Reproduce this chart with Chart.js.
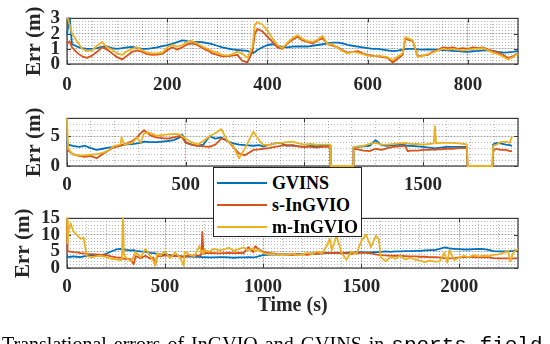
<!DOCTYPE html>
<html><head><meta charset="utf-8">
<script src="https://cdn.jsdelivr.net/npm/chart.js@4/dist/chart.umd.min.js"></script>
<style>
html,body{margin:0;padding:0;background:#fff;}
#wrap{position:relative;width:550px;height:344px;overflow:hidden;background:#fff;}
canvas{position:absolute;left:0;}
#legend{position:absolute;left:213px;top:167px;width:147px;height:68px;background:#fff;border:1px solid #262626;font:bold 18px "Liberation Serif","Times New Roman",serif;color:#000;}
.item{position:absolute;left:0;width:147px;height:22px;line-height:22px;}
.sw{position:absolute;left:3px;top:10px;width:50px;height:2px;}
.lb{position:absolute;left:58px;top:0;white-space:nowrap;}
#caption{position:absolute;left:2px;top:333px;white-space:nowrap;line-height:20px;font:20px "Liberation Serif","Times New Roman",serif;color:#000;word-spacing:2px;}
#caption span{font:21px "Liberation Mono","DejaVu Sans Mono",monospace;word-spacing:0;}
</style></head>
<body><div id="wrap">
<canvas id="c1" width="550" height="100" style="top:0px"></canvas>
<canvas id="c2" width="550" height="100" style="top:100px"></canvas>
<canvas id="c3" width="550" height="144" style="top:200px"></canvas>
<div id="legend">
 <div class="item" style="top:4px"><div class="sw" style="background:#0072BD"></div><div class="lb">GVINS</div></div>
 <div class="item" style="top:26px"><div class="sw" style="background:#D95319"></div><div class="lb">s-InGVIO</div></div>
 <div class="item" style="top:48px"><div class="sw" style="background:#EDB120"></div><div class="lb">m-InGVIO</div></div>
</div>
<div id="caption">Translational errors of InGVIO and GVINS in <span>sports_field</span></div>
</div>
<script>
// ---------- DATA ----------
const seriesNames = ['GVINS', 's-InGVIO', 'm-InGVIO'];

// Panel 1
const topTime = [0,5,10,20,30,40,50,60,70,80,90,
 100,110,120,130,140,150,160,170,180,190,
 200,210,220,230,240,250,260,270,280,290,
 300,310,320,330,340,350,360,370,375,380,390,
 400,410,420,430,440,450,460,470,480,490,
 500,510,520,530,540,550,560,570,580,590,
 600,610,620,630,640,650,660,670,675,680,690,
 700,710,720,730,740,750,760,770,780,790,
 800,810,820,830,840,850,860,870,880,890,900];
const topGvins = [1.9,3.2,1.3,1.15,1.05,1.0,1.0,1.05,1.12,1.15,1.05,
 1.0,1.04,1.1,1.12,1.06,1.0,1.0,1.04,1.1,1.18,
 1.24,1.33,1.44,1.55,1.5,1.47,1.45,1.43,1.38,1.3,
 1.2,1.1,1.02,0.96,0.92,0.9,0.86,0.72,0.78,0.92,1.1,
 1.25,1.3,1.2,1.12,1.1,1.14,1.15,1.16,1.15,1.2,
 1.25,1.3,1.36,1.4,1.41,1.35,1.26,1.2,1.15,1.1,
 1.05,1.0,1.0,0.95,0.9,0.85,0.88,0.95,0.98,1.0,1.0,
 0.96,0.95,0.96,0.95,0.94,0.92,0.9,0.86,0.85,0.82,
 0.8,0.84,0.86,0.9,0.9,0.86,0.8,0.75,0.76,0.8,0.86];
const topSIn = [1.3,1.5,1.1,0.75,0.5,0.4,0.55,0.8,1.1,0.95,0.7,
 0.45,0.3,0.55,0.8,0.9,0.8,0.65,0.6,0.62,0.66,
 0.9,1.1,0.95,1.1,1.3,1.35,1.25,1.05,0.9,0.7,
 0.6,0.5,0.5,0.55,0.6,0.2,0.1,0.8,2.0,2.3,2.15,
 1.8,1.45,1.1,1.0,1.35,1.6,1.8,1.55,1.45,1.35,
 1.55,1.7,1.3,1.2,1.1,0.9,0.75,0.8,0.85,0.7,
 0.6,0.55,0.5,0.45,0.4,0.1,0.35,0.6,1.7,1.6,1.5,
 0.5,0.55,0.6,0.8,0.9,1.1,1.05,1.1,1.0,1.05,
 1.0,1.1,1.05,1.1,0.95,0.85,0.75,0.6,0.4,0.5,0.75];
const topMIn = [3.2,2.6,2.0,1.5,1.0,0.85,0.9,1.2,1.45,1.1,0.95,
 0.7,0.6,0.85,1.0,1.1,0.9,0.75,0.7,0.7,0.75,
 1.1,1.25,1.15,1.25,1.45,1.5,1.35,1.15,1.0,0.85,
 0.75,0.6,0.55,0.65,0.8,0.7,0.4,1.1,2.6,2.75,2.6,
 2.2,1.7,1.25,1.05,1.4,1.7,1.9,1.65,1.5,1.45,
 1.6,1.85,1.3,1.3,1.05,0.85,0.7,0.8,0.75,0.65,
 0.55,0.5,0.55,0.5,0.45,0.25,0.5,0.7,1.75,1.7,1.55,
 0.45,0.55,0.65,0.75,0.9,1.0,0.95,1.0,0.95,0.9,
 0.95,1.0,1.0,1.05,0.9,0.75,0.65,0.5,0.3,0.45,0.7];
const topXTicks = [0,200,400,600,800];
const topYTicks = [0,1,2,3];

// Panel 2
const midTime = [0,5,25,50,75,100,125,150,175,200,
 225,230,240,275,295,310,325,350,375,400,
 425,450,475,485,500,525,550,575,600,625,
 650,675,700,725,750,785,810,825,850,875,
 900,925,950,975,1000,1025,1050,1075,1100,1108,
 1110,1205,1207,1225,1250,1275,1300,1325,1350,1375,
 1400,1425,1435,1450,1475,1500,1525,1545,1550,1555,
 1575,1600,1625,1650,1675,1685,1687,1793,1795,1810,
 1825,1850,1865,1875];
const midGvins = [4.1,3.6,3.4,3.2,3.4,3.0,2.7,2.9,3.1,3.2,
 3.4,3.5,3.6,3.7,3.8,3.9,4.1,4.0,4.0,4.1,
 4.2,4.35,4.8,5.3,4.0,3.6,3.4,3.6,5.0,4.6,
 4.8,4.2,3.8,3.6,3.5,3.4,3.5,3.3,3.5,3.8,
 3.9,3.4,3.5,3.3,3.2,3.4,3.3,3.4,3.4,3.4,
 0,0,3.2,3.2,3.3,3.4,4.35,3.5,3.4,3.5,
 3.6,3.5,3.4,3.4,3.3,3.2,3.1,3.0,2.9,3.0,
 3.1,3.2,3.2,3.2,3.2,3.2,0,0,3.6,3.9,
 3.8,3.6,3.5,3.4];
const midSIn = [2.9,2.6,2.0,1.7,1.55,1.7,1.3,2.0,2.6,3.2,
 3.4,3.5,3.6,4.2,4.8,5.5,6.0,5.2,4.8,4.7,
 4.6,4.8,5.05,4.8,3.9,3.6,3.4,3.3,3.2,3.6,
 4.6,4.3,3.2,2.1,1.8,2.7,2.8,2.9,3.0,3.2,
 3.4,3.5,3.4,3.3,3.2,3.2,3.1,3.2,3.2,3.3,
 0,0,2.9,2.8,2.6,2.5,2.9,2.7,3.0,3.2,
 3.3,3.4,2.5,2.6,2.6,2.7,2.7,2.8,2.7,2.8,
 2.8,2.9,2.9,3.0,3.0,3.0,0,0,2.6,2.9,
 2.7,2.7,2.5,2.5];
const midMIn = [8.0,2.9,1.9,1.8,1.8,1.9,2.0,2.2,2.6,3.4,
 3.6,4.8,3.6,3.9,4.8,3.9,5.5,5.6,5.1,5.2,
 5.3,5.4,5.3,5.0,4.6,4.0,3.6,4.2,5.0,5.5,
 6.2,4.3,3.4,1.3,3.0,5.75,4.3,3.6,3.5,3.8,
 3.9,4.0,4.1,3.8,3.6,3.7,3.6,3.6,3.6,3.6,
 0,0,3.2,3.3,3.4,3.7,3.9,3.6,3.6,3.7,
 3.8,3.9,3.8,3.7,3.7,3.6,3.7,3.8,6.7,3.8,
 3.9,3.9,3.9,3.8,3.7,3.6,0,0,3.4,3.6,
 4.0,4.1,3.9,5.0];
const midXTicks = [0,500,1000,1500];
const midYTicks = [0,5];

// Panel 3
const botTime = [0,3,10,20,30,50,70,85,100,125,
 150,175,200,225,250,275,280,285,290,300,
 325,340,350,375,400,425,440,450,460,475,
 500,525,550,575,595,600,625,650,675,685,
 690,695,700,725,750,775,800,825,850,875,
 900,925,950,960,975,1000,1025,1050,1075,1100,
 1125,1150,1175,1200,1225,1250,1275,1300,1325,1340,
 1350,1375,1400,1425,1450,1475,1500,1525,1550,1575,
 1590,1600,1625,1650,1675,1700,1725,1750,1775,1800,
 1825,1850,1875,1900,1925,1940,1950,1975,2000,2025,
 2050,2075,2100,2125,2150,2175,2200,2225,2250,2260,
 2275,2300];
const botGvins = [3.6,3.4,3.3,3.4,3.5,3.4,3.3,3.5,3.7,3.8,
 3.9,3.9,4.3,5.0,5.6,5.8,5.7,5.5,5.6,5.5,
 5.3,5.4,5.2,5.0,4.9,4.6,4.5,4.4,4.3,4.2,
 4.1,3.9,3.7,3.6,3.4,3.4,3.5,3.4,3.4,3.3,
 3.3,3.2,3.3,3.2,3.2,3.3,3.3,3.2,3.1,3.2,
 3.2,3.3,3.2,3.3,3.5,3.9,4.0,4.1,4.0,4.2,
 4.1,4.1,4.2,4.1,4.3,4.4,4.5,4.4,4.6,4.5,
 4.6,4.6,4.5,4.6,4.7,4.7,4.8,4.7,4.7,4.8,
 4.8,4.9,5.0,4.9,5.0,5.0,5.1,5.1,5.2,5.2,
 5.3,5.4,5.4,5.8,6.2,6.1,5.9,5.8,5.7,5.6,
 5.6,5.7,5.8,5.7,5.5,5.1,5.0,5.0,5.0,5.1,
 5.2,5.4];
const botSIn = [14.0,5.2,5.0,4.9,4.8,4.7,4.5,4.4,4.3,4.2,
 4.1,4.0,3.9,3.5,3.2,3.1,3.0,2.9,2.8,2.8,
 2.6,1.1,3.6,3.0,3.7,2.8,3.2,0.8,3.7,3.5,
 3.8,3.7,3.6,3.5,3.4,3.5,3.7,3.8,3.7,4.0,
 10.9,5.5,4.5,4.6,4.5,4.4,4.5,4.6,4.5,4.6,
 4.5,6.3,4.8,6.6,5.8,4.9,4.6,4.4,4.2,4.1,
 4.0,4.0,4.1,4.1,4.0,4.2,4.3,4.4,4.5,4.6,
 4.6,4.5,4.4,4.5,4.3,4.5,4.6,4.6,4.4,4.1,
 4.0,3.9,3.8,3.7,3.7,3.7,3.6,3.5,3.5,3.4,
 3.4,3.3,3.3,3.2,3.0,2.9,2.9,3.0,3.2,3.3,
 3.3,3.3,3.2,3.3,3.2,3.0,2.9,2.9,2.9,2.8,
 2.9,2.9];
const botMIn = [15.5,7.5,12.0,13.5,11.3,10.0,8.8,9.2,3.7,3.2,
 3.6,3.7,3.3,2.8,2.6,2.4,2.6,15.2,4.1,3.2,
 2.0,3.5,4.9,3.2,5.8,3.6,2.3,0.7,4.5,3.8,
 5.0,3.0,4.6,3.4,0.7,4.9,4.0,3.6,6.6,4.8,
 5.2,4.2,5.5,4.9,5.8,5.3,5.6,6.1,5.2,5.7,
 6.2,5.4,6.0,5.0,5.6,4.6,4.1,4.3,3.9,4.2,
 4.0,4.4,3.8,4.1,4.6,4.2,5.0,4.4,6.8,8.8,
 5.4,9.7,4.6,2.5,5.0,4.2,8.0,10.1,6.3,9.7,
 8.8,3.3,2.0,3.4,2.8,3.7,2.6,3.1,2.5,2.2,
 1.8,2.2,1.9,2.0,4.6,1.6,5.4,2.4,3.2,3.7,
 3.3,3.9,3.5,3.7,3.6,4.0,4.1,4.6,5.0,2.0,
 4.6,5.8];
const botXTicks = [0,500,1000,1500,2000];
const botYTicks = [0,5,10,15];

// ---------- STYLE ----------
const COLORS = ['#0072BD', '#D95319', '#EDB120'];
const TXT = '#262626';
const FONT = '"Liberation Serif","Times New Roman",serif';
const MAJOR = 'rgba(38,38,38,0.16)';
const MINOR = 'rgba(38,38,38,0.32)';

const boxPlugin = {
  id: 'box',
  beforeDatasetsDraw(chart) {
    const {ctx, chartArea: a, scales} = chart;
    ctx.save();
    ctx.strokeStyle = '#3a3a3a';
    ctx.lineWidth = 1.2;
    ctx.strokeRect(a.left, a.top, a.right - a.left, a.bottom - a.top);
    ctx.lineWidth = 1;
    ctx.beginPath();
    scales.x.ticks.forEach(t => {
      const px = Math.round(scales.x.getPixelForValue(t.value)) + 0.5;
      ctx.moveTo(px, a.bottom); ctx.lineTo(px, a.bottom - 4);
      ctx.moveTo(px, a.top); ctx.lineTo(px, a.top + 4);
    });
    scales.y.ticks.forEach(t => {
      const py = Math.round(scales.y.getPixelForValue(t.value)) + 0.5;
      ctx.moveTo(a.left, py); ctx.lineTo(a.left + 4, py);
      ctx.moveTo(a.right, py); ctx.lineTo(a.right - 4, py);
    });
    ctx.stroke();
    ctx.restore();
  }
};

function ds(i, time, vals) {
  return {
    label: seriesNames[i],
    data: time.map((t, k) => ({x: t, y: vals[k]})),
    borderColor: COLORS[i], backgroundColor: COLORS[i],
    borderWidth: 1.8, pointRadius: 0, tension: 0,
    borderJoinStyle: 'round', fill: false,
    clip: { left: 1, right: 1, top: 1, bottom: 2 },
    order: 2 - i, xAxisID: 'x', yAxisID: 'y'
  };
}

function makeChart(id, c) {
  const scales = {
    xm: { type: 'linear', axis: 'x', position: 'top', min: 0, max: c.xMax,
      ticks: { display: false, stepSize: c.xMinor },
      grid: { color: MINOR, drawTicks: false, lineWidth: 1 },
      border: { display: false, dash: [1, 2] },
      afterFit(s) { s.height = 0; } },
    ym: { type: 'linear', axis: 'y', position: 'right', min: 0, max: c.yMax,
      ticks: { display: false, stepSize: c.yMinor },
      grid: { color: MINOR, drawTicks: false, lineWidth: 1 },
      border: { display: false, dash: [1, 2] },
      afterFit(s) { s.width = 0; } },
    x: { type: 'linear', position: 'bottom', min: 0, max: c.xMax,
      afterBuildTicks(s) { s.ticks = c.xTicks.map(v => ({value: v})); },
      ticks: { color: TXT, font: { family: FONT, size: 19, weight: 'bold' }, padding: c.xPad,
        maxRotation: 0, autoSkip: false, callback: v => String(v) },
      grid: { color: MAJOR, drawTicks: false },
      border: { display: false },
      title: c.xTitle ? { display: true, text: c.xTitle, color: TXT,
        font: { family: FONT, size: 20, weight: 'bold' }, padding: { top: 0, bottom: c.xTitlePad } } : { display: false },
      afterFit(s) { s.height = c.xH; } },
    y: { type: 'linear', position: 'left', min: 0, max: c.yMax,
      afterBuildTicks(s) { s.ticks = c.yTicks.map(v => ({value: v})); },
      ticks: { color: TXT, font: { family: FONT, size: 19, weight: 'bold' }, padding: 7,
        autoSkip: false, callback: v => String(v) },
      grid: { color: MAJOR, drawTicks: false },
      border: { display: false },
      title: { display: true, text: 'Err (m)', color: TXT,
        font: { family: FONT, size: 21, weight: 'bold' }, padding: { top: c.yTitlePad, bottom: 0 } },
      afterFit(s) { s.width = 67; } }
  };
  return new Chart(document.getElementById(id), {
    type: 'line',
    data: { datasets: [ds(0, c.time, c.g), ds(1, c.time, c.s), ds(2, c.time, c.m)] },
    options: {
      responsive: false, animation: false, devicePixelRatio: 1,
      layout: { padding: { left: 0, right: 32, top: c.padTop, bottom: 0 } },
      plugins: { legend: { display: false }, tooltip: { enabled: false } },
      scales
    },
    plugins: [boxPlugin]
  });
}

makeChart('c1', { time: topTime, g: topGvins, s: topSIn, m: topMIn, xMax: 900, yMax: 3,
  xTicks: topXTicks, yTicks: topYTicks, xMinor: 50, yMinor: 0.2,
  padTop: 7, xH: 36, xPad: 10, yTitlePad: 22 });
makeChart('c2', { time: midTime, g: midGvins, s: midSIn, m: midMIn, xMax: 1900, yMax: 8,
  xTicks: midXTicks, yTicks: midYTicks, xMinor: 100, yMinor: 1,
  padTop: 9, xH: 34, xPad: 8, yTitlePad: 22 });
makeChart('c3', { time: botTime, g: botGvins, s: botSIn, m: botMIn, xMax: 2300, yMax: 15,
  xTicks: botXTicks, yTicks: botYTicks, xMinor: 100, yMinor: 1,
  padTop: 9, xH: 76, xPad: 8, yTitlePad: 11, xTitle: 'Time (s)', xTitlePad: 26 });
</script>
</body></html>
